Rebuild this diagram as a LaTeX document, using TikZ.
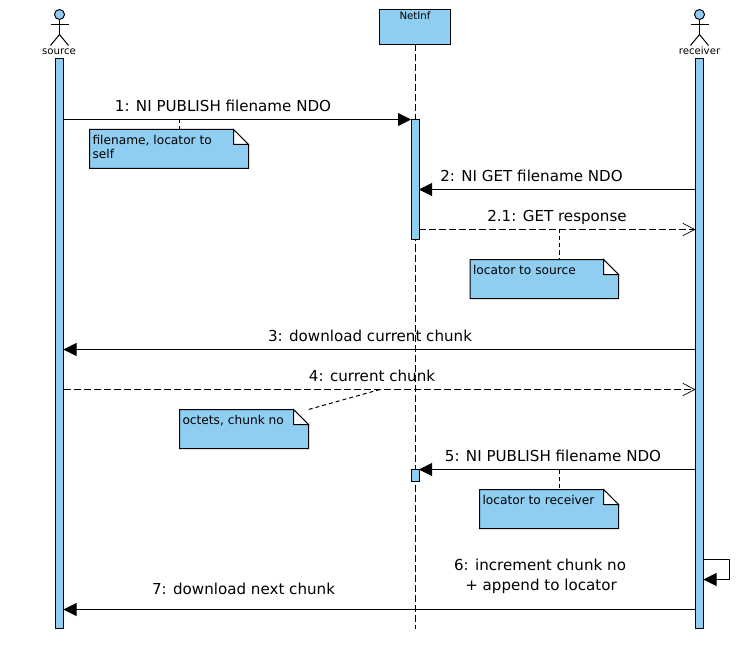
\documentclass[tikz,border=0pt]{standalone}
\usepackage{fontspec}
\setmainfont{DejaVu Sans}
\usetikzlibrary{arrows.meta,calc}
\definecolor{umlblue}{HTML}{8FCEF1}
\tikzset{
  x=1pt,y=-1pt,
  every node/.style={inner sep=0pt,outer sep=0pt},
  bar/.style={draw=black,fill=umlblue,line width=1pt,rectangle,minimum width=8pt,anchor=north},
  msgtext/.style={font=\fontsize{15.1}{18}\selectfont,anchor=base},
  notetext/.style={font=\fontsize{12.2}{14.5}\selectfont,anchor=north west,align=left},
  small/.style={font=\fontsize{10.2}{12}\selectfont,anchor=base},
  sync/.style={draw=black,line width=1pt,-{Triangle[length=13pt,width=13pt]}},
  reply/.style={draw=black,line width=1pt,dash pattern=on 7pt off 3pt,-{Straight Barb[length=12pt,width=12.5pt,line width=0.7pt]}},
  life/.style={draw=black,line width=1pt,dash pattern=on 7pt off 3pt},
  notelink/.style={draw=black,line width=1pt,dash pattern=on 4pt off 3pt},
  notebody/.style={rectangle,anchor=north west},
  actorline/.style={draw=black,line width=1pt},
}
\newcommand{\notebox}[6]{% name, x, y, width, height, text
  \node[notebody,minimum width=#4pt,minimum height=#5pt] (#1) at (#2,#3) {};
  \draw[fill=umlblue,line width=1pt] (#1.north west) -- ($(#1.north east)+(-15,0)$) -- ($(#1.north east)+(0,15)$) -- (#1.south east) -- (#1.south west) -- cycle;
  \draw[fill=white,line width=1pt] ($(#1.north east)+(-15,0)$) -- ($(#1.north east)+(-15,15)$) -- ($(#1.north east)+(0,15)$) -- cycle;
  \node[notetext] (#1text) at ($(#1.north west)+(3,5.5)$) {#6};
}
\newcommand{\actor}[2]{% name, x
  \node[circle,draw=black,fill=umlblue,line width=1pt,minimum size=10pt] (#1head) at (#2,14.5) {};
  \coordinate (#1hip) at (#2,34.5);
  \draw[actorline] (#1head.south) -- (#1hip);
  \draw[actorline] ($(#1hip)+(-9,-9.5)$) -- ($(#1hip)+(9,-9.5)$);
  \draw[actorline] ($(#1hip)+(-9,11)$) -- (#1hip) -- ($(#1hip)+(9,11)$);
}
\begin{document}
\begin{tikzpicture}
\useasboundingbox[fill=white] (0,0) rectangle (755,655);
% lifelines
\actor{src}{59.5}
\node[small] (srclabel) at (59,55) {source};
\actor{rcv}{699.5}
\node[small] (rcvlabel) at (699.5,55) {receiver};
\node[rectangle,draw=black,fill=umlblue,line width=1pt,minimum width=71pt,minimum height=35pt,anchor=north] (netinf) at (415,9.5) {};
\node[small] (netlabel) at (415,19.5) {NetInf};
\coordinate (netend) at (415,629);
\draw[life] (netinf.south) -- (netend);
\node[bar,minimum height=570pt] (srcbar) at (59.5,58.5) {};
\node[bar,minimum height=570pt] (rcvbar) at (699.5,58.5) {};
\node[bar,minimum height=120pt] (act1) at (415,119.5) {};
\node[bar,minimum height=12pt] (act2) at (415,469.5) {};
% messages
\draw[sync] (srcbar.east |- act1.north) -- (act1.north west);
\node[msgtext] (m1) at (223,111.5) {1: NI PUBLISH filename NDO};
\coordinate (y2) at (0,189.5);
\draw[sync] (rcvbar.west |- y2) -- (act1.east |- y2);
\node[msgtext] (m2) at (531.5,181.5) {2: NI GET filename NDO};
\coordinate (y21) at (0,229.5);
\draw[reply] (act1.east |- y21) -- (rcvbar.west |- y21);
\node[msgtext] (m21) at (557,221.5) {2.1: GET response};
\coordinate (y3) at (0,349.5);
\draw[sync] (rcvbar.west |- y3) -- (srcbar.east |- y3);
\node[msgtext] (m3) at (370,341.5) {3: download current chunk};
\coordinate (y4) at (0,389.5);
\draw[reply] (srcbar.east |- y4) -- (rcvbar.west |- y4);
\node[msgtext] (m4) at (372,381.5) {4: current chunk};
\draw[sync] (rcvbar.west |- act2.north) -- (act2.north east);
\node[msgtext] (m5) at (553,461.5) {5: NI PUBLISH filename NDO};
\coordinate (y6a) at (729.5,559.5);
\coordinate (y6b) at (729.5,579.5);
\draw[sync] (rcvbar.east |- y6a) -- (y6a) -- (y6b) -- (rcvbar.east |- y6b);
\node[msgtext] (m6a) at (540,570) {6: increment chunk no};
\node[msgtext] (m6b) at (541,590) {+ append to locator};
\coordinate (y7) at (0,609.5);
\draw[sync] (rcvbar.west |- y7) -- (srcbar.east |- y7);
\node[msgtext] (m7) at (243.5,594.5) {7: download next chunk};
% notes
\notebox{n1}{89.5}{129.5}{159}{39}{filename, locator to\\self}
\notebox{n2}{470}{259.5}{148.5}{39}{locator to source}
\notebox{n3}{179.5}{409.5}{129}{39}{octets, chunk no}
\notebox{n4}{479.5}{489.5}{139}{39}{locator to receiver}
\coordinate (c1) at (179.5,119.5);
\draw[notelink] (c1) -- (c1 |- n1.north);
\coordinate (c2) at (559.5,229.5);
\draw[notelink] (c2) -- (c2 |- n2.north);
\coordinate (c3) at (380,389.5);
\draw[notelink] (c3) -- (n3.north east);
\coordinate (c4) at (559.5,469.5);
\draw[notelink] (c4) -- (c4 |- n4.north);
\end{tikzpicture}
\end{document}
